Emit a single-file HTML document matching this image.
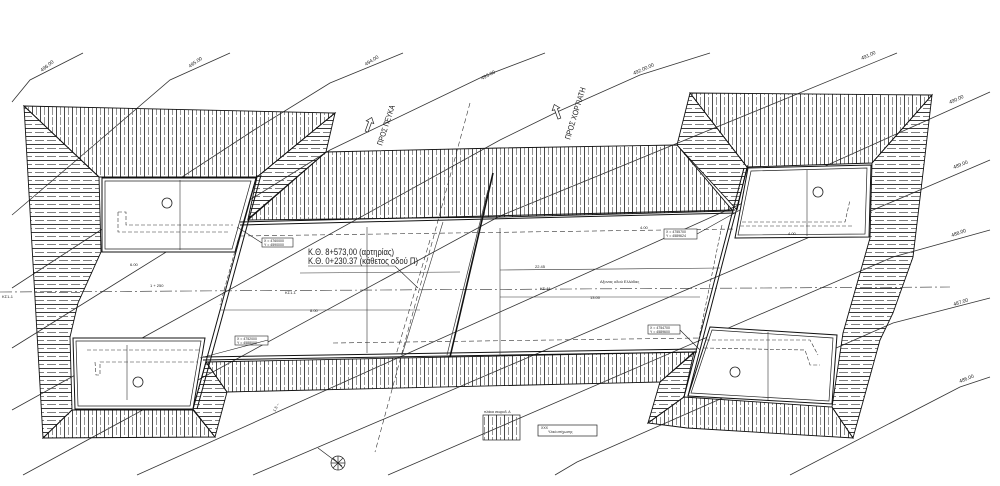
<!DOCTYPE html>
<html><head><meta charset="utf-8"><style>
html,body{margin:0;padding:0;background:#fff;width:1000px;height:486px;overflow:hidden}
svg{display:block}
text{font-family:"Liberation Sans","DejaVu Sans",sans-serif;fill:#222}
</style></head><body>
<svg width="1000" height="486" viewBox="0 0 1000 486" xmlns="http://www.w3.org/2000/svg">
<defs>
<pattern id="vh" patternUnits="userSpaceOnUse" width="8" height="10">
<line x1="0.5" y1="0" x2="0.5" y2="10" stroke="#2a2a2a" stroke-width="0.85"/>
<line x1="4.5" y1="0" x2="4.5" y2="10" stroke="#666" stroke-width="0.7" stroke-dasharray="5 2"/>
</pattern>
<pattern id="hh" patternUnits="userSpaceOnUse" width="12" height="8">
<line x1="0" y1="0.5" x2="12" y2="0.5" stroke="#222" stroke-width="0.9"/>
<line x1="0" y1="4.5" x2="12" y2="4.5" stroke="#555" stroke-width="0.8" stroke-dasharray="8 3"/>
</pattern>
</defs>

<!-- contour lines -->
<g fill="none" stroke="#333" stroke-width="0.8">
<polyline points="12,102 30,80 83,53"/>
<polyline points="12,215 100,140 170,80 230,53"/>
<polyline points="12,288 254,130 330,83 403,53"/>
<polyline points="12,348 330,150 482,77 545,53"/>
<polyline points="12,410 500,140 557,112 640,75 710,53"/>
<polyline points="23,475 500,216 897,53"/>
<polyline points="137,475 990,92"/>
<polyline points="253,475 990,160"/>
<polyline points="388,475 893,257 990,230"/>
<polyline points="555,475 577,462 893,323 990,298"/>
<polyline points="790,475 960,387 990,377"/>
</g>
<g font-size="5">
<text transform="translate(42,72) rotate(-38)">496.00</text>
<text transform="translate(190,68) rotate(-35)">495.00</text>
<text transform="translate(366,66) rotate(-32)">494.00</text>
<text transform="translate(482,80) rotate(-27)">493.00</text>
<text transform="translate(634,75) rotate(-24)">492.00.00</text>
<text transform="translate(862,60) rotate(-24)">491.00</text>
<text transform="translate(950,104) rotate(-24)">490.00</text>
<text transform="translate(954,169) rotate(-22)">489.00</text>
<text transform="translate(952,237) rotate(-20)">488.00</text>
<text transform="translate(954,306) rotate(-18)">487.00</text>
<text transform="translate(960,383) rotate(-22)">486.00</text>
</g>

<!-- hatched regions -->
<g stroke="#111" stroke-width="0.9">
<polygon fill="url(#vh)" points="24,106 335,113 257,177 99,177"/>
<polygon fill="url(#hh)" points="24,106 99,177 101,252 78,303 70,337 72,410 43,438"/>
<polygon fill="url(#hh)" points="335,113 326,152 248,219 257,177"/>
<polygon fill="url(#vh)" points="72,410 193,410 215,437 43,438"/>
<polygon fill="url(#hh)" points="206,362 227,392 215,437 193,409"/>
<polygon fill="url(#vh)" points="326,152 500,148 677,145 733,211 500,217 248,220"/>
<polygon fill="url(#vh)" points="206,362 695,352 660,382 227,392"/>
<polygon fill="url(#vh)" points="690,93 932,95 872,163 747,167"/>
<polygon fill="url(#hh)" points="690,93 747,167 737,210 677,145"/>
<polygon fill="url(#hh)" points="932,95 923,173 913,257 893,313 880,340 853,438 832,407 843,333 870,238 872,163"/>
<polygon fill="url(#hh)" points="694,352 684,397 648,423 660,382"/>
<polygon fill="url(#vh)" points="684,397 832,407 853,438 687,428 648,423"/>
</g>

<!-- boxes -->
<g fill="#fff" stroke="#111" stroke-width="1">
<polygon points="102,178 256,178 235,252 102,252"/>
<polygon points="73,338 205,338 193,409 75,409"/>
<polygon points="748,168 871,165 869,237 735,238"/>
<polygon points="710,327 837,335 832,404 688,396"/>
</g>
<g fill="none" stroke="#222" stroke-width="0.7">
<polygon points="105,181 251,181 232,249 105,249"/>
<polygon points="76,341 201,341 190,406 78,406"/>
<polygon points="751,171 867,168 865,234 738,235"/>
<polygon points="712,330 833,338 829,401 691,393"/>
</g>
<g fill="none" stroke="#333" stroke-width="0.6" stroke-dasharray="4 2">
<polyline points="118,212 126,212 126,225 233,225"/>
<polyline points="118,212 118,232 228,232"/>
<polyline points="87,350 200,350"/>
<polyline points="95,362 96,375 100,375 100,362 198,362"/>
<polyline points="742,222 845,222 850,200"/>
<polyline points="740,226 852,226"/>
<polyline points="706,340 810,340 818,355"/>
<polyline points="704,348 805,350 810,365 820,365"/>
</g>
<g stroke="#333" stroke-width="0.6">
<line x1="180" y1="180" x2="180" y2="250"/>
<line x1="127" y1="345" x2="127" y2="400"/>
<line x1="807" y1="170" x2="807" y2="236"/>
<line x1="768" y1="332" x2="768" y2="400"/>
</g>
<g fill="none" stroke="#222" stroke-width="0.8">
<circle cx="167" cy="203" r="5"/><circle cx="138" cy="382" r="5"/>
<circle cx="818" cy="192" r="5"/><circle cx="735" cy="372" r="5"/>
</g>

<!-- road edges -->
<g stroke="#111" stroke-width="1" fill="none">
<line x1="257" y1="175" x2="193" y2="409"/>
<line x1="261" y1="175" x2="197" y2="409"/>
<line x1="748" y1="165" x2="688" y2="396"/>
<line x1="744" y1="168" x2="684" y2="397"/>
<line x1="240" y1="222" x2="735" y2="210"/>
<line x1="240" y1="225" x2="735" y2="213"/>
<line x1="203" y1="357" x2="697" y2="349"/>
<line x1="203" y1="360" x2="697" y2="352"/>
</g>
<g stroke="#333" stroke-width="0.6" fill="none">
<line x1="240" y1="236" x2="735" y2="229" stroke-dasharray="5 3"/>
<line x1="0" y1="292" x2="950" y2="287" stroke-dasharray="12 3 2 3"/>
<line x1="333" y1="343" x2="700" y2="338" stroke-dasharray="5 3"/>
<line x1="220" y1="310" x2="420" y2="310"/>
<line x1="500" y1="270" x2="720" y2="268"/>
<line x1="500" y1="297" x2="700" y2="297"/>
<line x1="300" y1="273" x2="460" y2="272"/>
<line x1="367" y1="227" x2="367" y2="353"/>
<line x1="500" y1="228" x2="500" y2="355"/>
<line x1="470" y1="103" x2="375" y2="452" stroke-dasharray="5 3"/>
<line x1="443" y1="222" x2="402" y2="355"/>
<line x1="430" y1="240" x2="396" y2="355" stroke-dasharray="5 3"/>
<line x1="722" y1="225" x2="697" y2="348" stroke-dasharray="4 2"/>
<line x1="238" y1="240" x2="220" y2="305" stroke-dasharray="4 2"/>
</g>
<line x1="493" y1="173" x2="450" y2="357" stroke="#111" stroke-width="1.6"/>
<line x1="488" y1="190" x2="447" y2="355" stroke="#333" stroke-width="0.7"/>

<text x="308" y="255" font-size="9" textLength="86" lengthAdjust="spacingAndGlyphs">Κ.Θ. 8+573,00 (αρτηρίας)</text>
<text x="308" y="264" font-size="9" textLength="110" lengthAdjust="spacingAndGlyphs">Κ.Θ. 0+230.37 (κάθετος οδού Π)</text>
<polyline points="308,266 395,266 418,288" fill="none" stroke="#222" stroke-width="0.6"/>

<text transform="translate(382,146) rotate(-72)" font-size="8" textLength="42" lengthAdjust="spacingAndGlyphs">ΠΡΟΣ ΠΕΥΚΑ</text>
<text transform="translate(570,140) rotate(-73)" font-size="8" textLength="54" lengthAdjust="spacingAndGlyphs">ΠΡΟΣ ΧΟΡΤΙΑΤΗ</text>
<g fill="#fff" stroke="#222" stroke-width="0.7">
<polygon transform="translate(369,125) rotate(-70)" points="-7,-1.5 3,-1.5 3,-4 8,0 3,4 3,1.5 -7,1.5"/>
<polygon transform="translate(557,112) rotate(-110)" points="-7,-1.5 3,-1.5 3,-4 8,0 3,4 3,1.5 -7,1.5"/>
</g>

<g fill="#fff" stroke="#222" stroke-width="0.6">
<rect x="262" y="238" width="31" height="9"/>
<rect x="235" y="336" width="33" height="9"/>
<rect x="664" y="229" width="33" height="10"/>
<rect x="648" y="325" width="32" height="9"/>
</g>
<g font-size="3.5">
<text x="264" y="242">X = 4760000</text><text x="264" y="246">Y = 4590000</text>
<text x="237" y="340">X = 4752000</text><text x="237" y="344">Y = 4588000</text>
<text x="666" y="233">X = 4755700</text><text x="666" y="237">Y = 4589624</text>
<text x="650" y="329">X = 4754700</text><text x="650" y="333">Y = 4589600</text>
</g>
<g stroke="#222" stroke-width="0.6">
<line x1="262" y1="243" x2="237" y2="227"/>
<line x1="268" y1="340" x2="200" y2="358"/>
<line x1="697" y1="234" x2="740" y2="210"/>
<line x1="680" y1="330" x2="700" y2="350"/>
</g>

<g font-size="4">
<text x="150" y="287">1 + 250</text>
<text x="285" y="294">ΚΣ1.Σ</text>
<text x="540" y="290">ΚΣ-11</text>
<text x="600" y="283">Αξονας οδού Ελλάδας</text>
<text x="130" y="266">6.00</text>
<text x="310" y="312">8.00</text>
<text x="535" y="268">22.45</text>
<text x="590" y="299">13.00</text>
<text x="640" y="229">4.00</text>
<text x="788" y="235">4.00</text>
<text x="2" y="298">ΚΣ1-1</text>
</g>

<text x="484" y="413" font-size="3.5">πλάκα σκυροδ. Α</text>
<rect x="483" y="415" width="37" height="25" fill="url(#vh)" stroke="#222" stroke-width="0.7"/>
<rect x="538" y="425" width="59" height="11" fill="#fff" stroke="#222" stroke-width="0.7"/>
<text x="541" y="429" font-size="3.5">ΧΧΧ</text>
<text x="548" y="433" font-size="3.5">Υλικό επίχωσης</text>

<g stroke="#222" stroke-width="0.7" fill="none">
<line x1="318" y1="448" x2="342" y2="466"/>
<circle cx="338" cy="463" r="7"/>
<line x1="331" y1="463" x2="345" y2="463"/>
<line x1="338" y1="456" x2="338" y2="470"/>
<line x1="333" y1="458" x2="343" y2="468"/>
<line x1="343" y1="458" x2="333" y2="468"/>
</g>
<text x="275" y="412" font-size="4" transform="rotate(-60 275 412)">1.5 ~</text>
</svg>
</body></html>
